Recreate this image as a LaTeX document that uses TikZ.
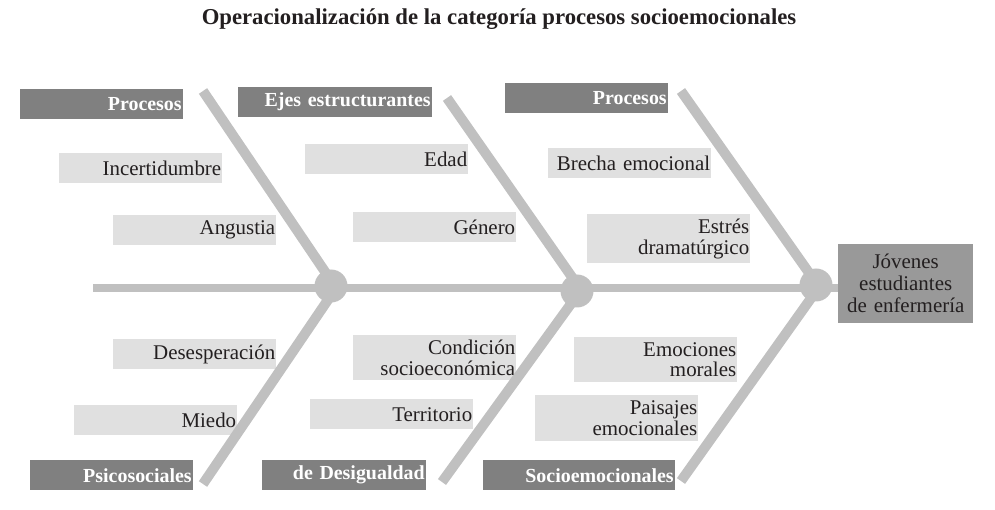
\documentclass[tikz,border=0pt]{standalone}
\usepackage{fontspec}
\setmainfont{Liberation Serif}
\definecolor{bone}{HTML}{C0C0C0}
\definecolor{catgray}{HTML}{808080}
\definecolor{causegray}{HTML}{E0E0E0}
\definecolor{headgray}{HTML}{999999}
\definecolor{ink}{HTML}{231F20}
\newcommand{\causefont}{\fontsize{21}{21}\selectfont}
\newcommand{\catfont}{\fontsize{20}{20}\selectfont\bfseries}
\newcommand{\titlefont}{\fontsize{22.8}{24}\selectfont\bfseries}
\begin{document}
\begin{tikzpicture}[x=1bp,y=-1bp,
  causebox/.style={fill=causegray, text=ink, font=\causefont, inner xsep=1bp, inner ysep=0pt,
    align=right, anchor=north west, minimum width=163bp, text width=161bp, minimum height=30bp},
  catbox/.style={fill=catgray, text=white, font=\catfont, inner xsep=1.5bp, inner ysep=0pt,
    align=right, anchor=north west, minimum height=30bp},
  headbox/.style={fill=headgray, text=ink, font=\fontsize{21}{22}\selectfont, inner sep=0pt,
    align=center, anchor=north west, minimum width=135bp, minimum height=79bp, text width=133bp},
  bonestyle/.style={draw=bone, line width=10bp},
  spinestyle/.style={draw=bone, line width=8.5bp},
  joint/.style={circle, fill=bone, inner sep=0pt, minimum size=33bp}
]
\useasboundingbox (0,0) rectangle (995,510);

% title
\node[font=\titlefont, text=ink, anchor=base] (title) at (499,25) {Operacionalización de la categoría procesos socioemocionales};

% category boxes
\node[catbox, minimum width=163bp, text width=160bp] (c1) at (20,89) {Procesos};
\node[catbox, minimum width=194bp, text width=191bp] (c2) at (238,87) {Ejes estructurantes};
\node[catbox, minimum width=163bp, text width=160bp] (c3) at (505,83) {Procesos};
\node[catbox, minimum width=163bp, text width=160bp] (c4) at (30,460) {Psicosociales};
\node[catbox, minimum width=164bp, text width=161bp] (c5) at (262,460) {de Desigualdad};
\node[catbox, minimum width=192bp, text width=189bp] (c6) at (483,460) {Socioemocionales};

% cause boxes
\node[causebox] (a1) at (59,153) {Incertidumbre};
\node[causebox] (a2) at (113,215) {Angustia};
\node[causebox] (b1) at (305,144) {Edad};
\node[causebox] (b2) at (353,212) {Género};
\node[causebox] (d1) at (548,148) {Brecha emocional};
\node[causebox, minimum height=49bp] (d2) at (587,214) {Estrés\\dramatúrgico};
\node[causebox] (e1) at (113,339) {Desesperación};
\node[causebox] (e2) at (74,405) {Miedo};
\node[causebox, minimum height=45bp] (f1) at (353,335) {Condición\\socioeconómica};
\node[causebox] (f2) at (310,399) {Territorio};
\node[causebox, minimum height=45bp] (g1) at (574,337) {Emociones\\morales};
\node[causebox, minimum height=46bp] (g2) at (535,395) {Paisajes\\emocionales};

% head
\node[headbox] (head) at (838,244) {Jóvenes\\estudiantes\\de enfermería};

% bone coordinates
\coordinate (tail) at (93,288);
\coordinate (v1) at (336,288);
\coordinate (v2) at (581,290);
\coordinate (v3) at (819,287);
\coordinate (u1) at (203,91);
\coordinate (u2) at (447,98);
\coordinate (u3) at (681,91);
\coordinate (l1) at (203,484);
\coordinate (l2) at (442,482);
\coordinate (l3) at (681,481);

% spine and bones
\draw[spinestyle] (tail) -- (tail -| head.west);
\draw[bonestyle] (u1) -- (v1);
\draw[bonestyle] (u2) -- (v2);
\draw[bonestyle] (u3) -- (v3);
\draw[bonestyle] (v1) -- (l1);
\draw[bonestyle] (v2) -- (l2);
\draw[bonestyle] (v3) -- (l3);

% joints
\node[joint] (j1) at (331,286) {};
\node[joint] (j2) at (577,291) {};
\node[joint] (j3) at (816,285) {};
\end{tikzpicture}
\end{document}
